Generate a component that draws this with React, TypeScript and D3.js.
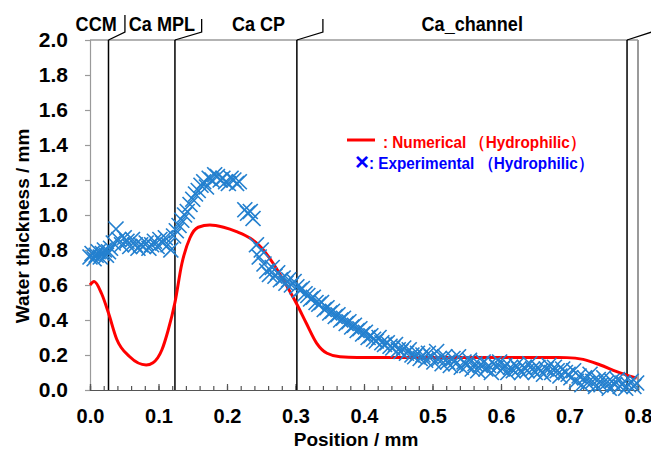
/**
 * Water thickness profile chart
 * D3 line + scatter comparing numerical and experimental water thickness
 */

import React, { useEffect, useRef } from 'react';
import * as d3 from 'd3';

// numerical result (red line)
const numPos = [0, 0.006, 0.017, 0.027, 0.039, 0.058, 0.082, 0.092, 0.105, 0.114, 0.124, 0.134, 0.146, 0.158, 0.175, 0.195, 0.214, 0.234, 0.251, 0.268, 0.285, 0.302, 0.316, 0.331, 0.346, 0.365, 0.39, 0.45, 0.55, 0.65, 0.696, 0.72, 0.745, 0.769, 0.783, 0.798];
const numThick = [0.6, 0.62, 0.55, 0.44, 0.29, 0.19, 0.143, 0.156, 0.23, 0.34, 0.5, 0.72, 0.87, 0.93, 0.943, 0.93, 0.905, 0.867, 0.81, 0.72, 0.61, 0.49, 0.38, 0.267, 0.21, 0.19, 0.186, 0.186, 0.186, 0.186, 0.185, 0.175, 0.143, 0.105, 0.086, 0.067];

// experimental result (blue crosses)
const expPos = [
  0.000, 0.003, 0.006, 0.009, 0.012, 0.015, 0.018, 0.021, 0.024, 0.027, 0.030,
  0.034, 0.038, 0.042, 0.046, 0.050, 0.054, 0.058, 0.062, 0.066, 0.070, 0.074, 0.078, 0.082, 0.086, 0.090, 0.094, 0.098, 0.102, 0.106, 0.110, 0.114, 0.118, 0.122,
  0.126, 0.130, 0.134, 0.138, 0.142, 0.146, 0.150, 0.154, 0.158, 0.162, 0.166, 0.170, 0.174, 0.178, 0.182, 0.186, 0.190, 0.194, 0.198, 0.202, 0.206, 0.210, 0.214, 0.218,
  0.226, 0.230, 0.234, 0.238,
  0.243, 0.247, 0.250, 0.254, 0.258, 0.262, 0.266, 0.270, 0.274, 0.278, 0.282, 0.286, 0.290, 0.294, 0.298, 0.302, 0.306, 0.310, 0.314, 0.318, 0.322, 0.326, 0.330, 0.334, 0.338, 0.342, 0.346, 0.350,
  0.354, 0.358, 0.362, 0.366, 0.370, 0.374, 0.378, 0.382, 0.386, 0.390, 0.394, 0.398, 0.402, 0.406, 0.410, 0.414, 0.418, 0.422, 0.426, 0.430, 0.434, 0.438, 0.442, 0.446, 0.450,
  0.454, 0.458, 0.462, 0.466, 0.470, 0.474, 0.478, 0.482, 0.486, 0.490, 0.494, 0.498, 0.502, 0.506, 0.510, 0.514, 0.518, 0.522, 0.526, 0.530, 0.534, 0.538, 0.542, 0.546, 0.550,
  0.554, 0.558, 0.562, 0.566, 0.570, 0.574, 0.578, 0.582, 0.586, 0.590, 0.594, 0.598, 0.602, 0.606, 0.610, 0.614, 0.618, 0.622, 0.626, 0.630, 0.634, 0.638, 0.642, 0.646, 0.650,
  0.654, 0.658, 0.662, 0.666, 0.670, 0.674, 0.678, 0.682, 0.686, 0.690, 0.694, 0.698, 0.702, 0.706, 0.710, 0.714, 0.718, 0.722, 0.726, 0.730, 0.734, 0.738, 0.742, 0.746, 0.750,
  0.754, 0.758, 0.762, 0.766, 0.770, 0.774, 0.778, 0.782, 0.786, 0.790, 0.794, 0.798
];
const expThick = [
  0.76, 0.78, 0.75, 0.77, 0.79, 0.76, 0.78, 0.80, 0.77, 0.79, 0.81,
  0.84, 0.92, 0.86, 0.83, 0.87, 0.85, 0.82, 0.86, 0.83, 0.81, 0.83, 0.82, 0.84, 0.81, 0.83, 0.85, 0.82, 0.86, 0.84, 0.87, 0.83, 0.80, 0.88,
  0.91, 0.94, 0.97, 1.00, 1.02, 1.06, 1.09, 1.12, 1.14, 1.17, 1.19, 1.16, 1.21, 1.20, 1.23, 1.22, 1.20, 1.21, 1.19, 1.18, 1.21, 1.20, 1.18, 1.19,
  1.03, 1.01, 1.02, 0.98,
  0.83, 0.76, 0.80, 0.72, 0.68, 0.66, 0.70, 0.65, 0.67, 0.63, 0.64, 0.61, 0.63, 0.60, 0.62, 0.59, 0.57, 0.58, 0.55, 0.54, 0.52, 0.53, 0.50, 0.49, 0.50, 0.46, 0.47, 0.44,
  0.45, 0.42, 0.43, 0.40, 0.41, 0.38, 0.39, 0.36, 0.37, 0.34, 0.35, 0.32, 0.33, 0.30, 0.31, 0.29, 0.28, 0.30, 0.27, 0.26, 0.27, 0.25, 0.24, 0.26, 0.23,
  0.22, 0.24, 0.21, 0.23, 0.20, 0.19, 0.21, 0.18, 0.20, 0.17, 0.21, 0.19, 0.16, 0.22, 0.18, 0.15, 0.19, 0.16, 0.14, 0.18, 0.15, 0.19, 0.13, 0.16, 0.14,
  0.17, 0.12, 0.15, 0.11, 0.14, 0.16, 0.12, 0.14, 0.10, 0.15, 0.13, 0.16, 0.12, 0.14, 0.10, 0.13, 0.11, 0.14, 0.12, 0.10, 0.13, 0.11, 0.15, 0.12, 0.10,
  0.13, 0.11, 0.09, 0.12, 0.14, 0.10, 0.13, 0.11, 0.08, 0.12, 0.10, 0.09, 0.07, 0.11, 0.05, 0.08, 0.03, 0.07, 0.04, 0.09, 0.05, 0.02, 0.06, 0.03, 0.07,
  0.04, 0.01, 0.05, 0.03, 0.06, 0.02, 0.04, 0.01, 0.03, 0.05, 0.02, 0.04
];

const posTicks = [0, 0.1, 0.2, 0.3, 0.4, 0.5, 0.6, 0.7, 0.8];
const thickTicks = [0, 0.2, 0.4, 0.6, 0.8, 1.0, 1.2, 1.4, 1.6, 1.8, 2.0];

// layer boundaries and labels along the top
const layerBounds = [0.027, 0.124, 0.302, 0.784];
const bracketPos = [0.051, 0.163, 0.34, 0.82];
const layerNames = ['CCM', 'Ca MPL', 'Ca CP', 'Ca_channel'];
const layerCenters = [0.009, 0.105, 0.246, 0.558];

const FONT = '"Liberation Sans", Arial, sans-serif';

export default function App() {
  const svgRef = useRef<SVGSVGElement>(null);
  const width = 651;
  const height = 452;

  useEffect(() => {
    if (!svgRef.current) return;
    const svg = d3.select(svgRef.current);
    svg.selectAll('*').remove();

    const margin = { top: 40, right: 13, bottom: 62, left: 90 };

    const x = d3.scaleLinear().domain([0, 0.8]).range([margin.left, width - margin.right]);
    const y = d3.scaleLinear().domain([0, 2]).range([height - margin.bottom, margin.top]);

    // condensed bold text helper
    const label = (tx: number, ty: number, txt: string, size: number, sx: number, anchor = 'start', fill = '#000') =>
      svg.append('text')
        .attr('transform', `translate(${tx},${ty}) scale(${sx},1)`)
        .attr('text-anchor', anchor)
        .attr('font-family', FONT)
        .attr('font-weight', 'bold')
        .attr('font-size', `${size}px`)
        .attr('fill', fill)
        .text(txt);

    // frame (top / right grey)
    svg.append('line')
      .attr('x1', x(0)).attr('x2', x(0.8))
      .attr('y1', y(2)).attr('y2', y(2))
      .attr('stroke', '#9a9a9a').attr('stroke-width', 1.5);
    svg.append('line')
      .attr('x1', x(0.8)).attr('x2', x(0.8))
      .attr('y1', y(2)).attr('y2', y(0))
      .attr('stroke', '#9a9a9a').attr('stroke-width', 2);

    // Y axis
    const yAxis = svg.append('g')
      .attr('transform', `translate(${x(0)},0)`)
      .call(d3.axisLeft(y).tickValues(thickTicks).tickSize(5).tickPadding(17).tickFormat(d3.format('.1f')));
    yAxis.selectAll('.domain, .tick line').attr('stroke', '#9a9a9a').attr('stroke-width', 1.2);
    yAxis.selectAll('text')
      .attr('fill', '#000')
      .attr('font-family', FONT)
      .attr('font-weight', 'bold')
      .attr('font-size', '21px');

    // X axis minor ticks (inside)
    const minor = d3.range(0, 0.8001, 0.02);
    const xMinor = svg.append('g')
      .attr('transform', `translate(0,${y(0)})`)
      .call(d3.axisBottom(x).tickValues(minor).tickSize(-4).tickFormat(() => ''));
    xMinor.selectAll('.domain, .tick line').attr('stroke', '#555').attr('stroke-width', 1.2);

    const xAxis = svg.append('g')
      .attr('transform', `translate(0,${y(0)})`)
      .call(d3.axisBottom(x).tickValues(posTicks).tickSize(-6).tickPadding(19).tickFormat(d3.format('.1f')));
    xAxis.selectAll('.domain, .tick line').attr('stroke', '#555').attr('stroke-width', 1.2);
    xAxis.selectAll('text')
      .attr('fill', '#000')
      .attr('font-family', FONT)
      .attr('font-weight', 'bold')
      .attr('font-size', '20px');

    // axis titles
    svg.append('text')
      .attr('transform', `translate(29,${(y(0) + y(2)) / 2 + 11}) rotate(-90)`)
      .attr('text-anchor', 'middle')
      .attr('font-family', FONT)
      .attr('font-weight', 'bold')
      .attr('font-size', '19px')
      .text('Water thickness / mm');
    label(356, 446, 'Position / mm', 19, 1, 'middle');

    // layer boundaries
    layerBounds.forEach((b, i) => {
      svg.append('line')
        .attr('x1', x(b)).attr('x2', x(b))
        .attr('y1', y(2)).attr('y2', y(0))
        .attr('stroke', '#000').attr('stroke-width', 1.5);
      svg.append('polyline')
        .attr('points', `${x(b)},${y(2)} ${x(bracketPos[i])},${y(2) - 8} ${x(bracketPos[i])},${i === 0 ? 15 : 19}`)
        .attr('fill', 'none')
        .attr('stroke', '#000')
        .attr('stroke-width', 1.3);
    });

    layerNames.forEach((name, i) => {
      label(x(layerCenters[i]), 31, name, 21, 0.86, 'middle');
    });

    // numerical line
    const line = d3.line<number>()
      .x((d, i) => x(numPos[i]))
      .y(d => y(d))
      .curve(d3.curveMonotoneX);
    svg.append('path')
      .datum(numThick)
      .attr('d', line)
      .attr('fill', 'none')
      .attr('stroke', '#ff0000')
      .attr('stroke-width', 3);

    // experimental crosses
    const s = 7.5;
    svg.append('g')
      .selectAll('path')
      .data(expThick)
      .enter()
      .append('path')
      .attr('d', (d, i) => {
        const cx = x(expPos[i]);
        const cy = y(d);
        return `M${cx - s},${cy - s}L${cx + s},${cy + s}M${cx - s},${cy + s}L${cx + s},${cy - s}`;
      })
      .attr('stroke', '#2480cf')
      .attr('stroke-width', 1.7)
      .attr('fill', 'none');

    // legend
    svg.append('line')
      .attr('x1', 347).attr('x2', 375)
      .attr('y1', 140).attr('y2', 140)
      .attr('stroke', '#ff0000').attr('stroke-width', 3);
    label(383, 148, ': Numerical （Hydrophilic）', 17, 0.9, 'start', '#ff0000');
    label(355, 170, '×', 24, 1, 'start', '#0000ff');
    label(369, 169, ': Experimental （Hydrophilic）', 17, 0.9, 'start', '#0000ff');
  }, []);

  return (
    <svg
      ref={svgRef}
      width={width}
      height={height}
      style={{ position: 'absolute', left: 0, top: 0, background: '#fff' }}
    />
  );
}
